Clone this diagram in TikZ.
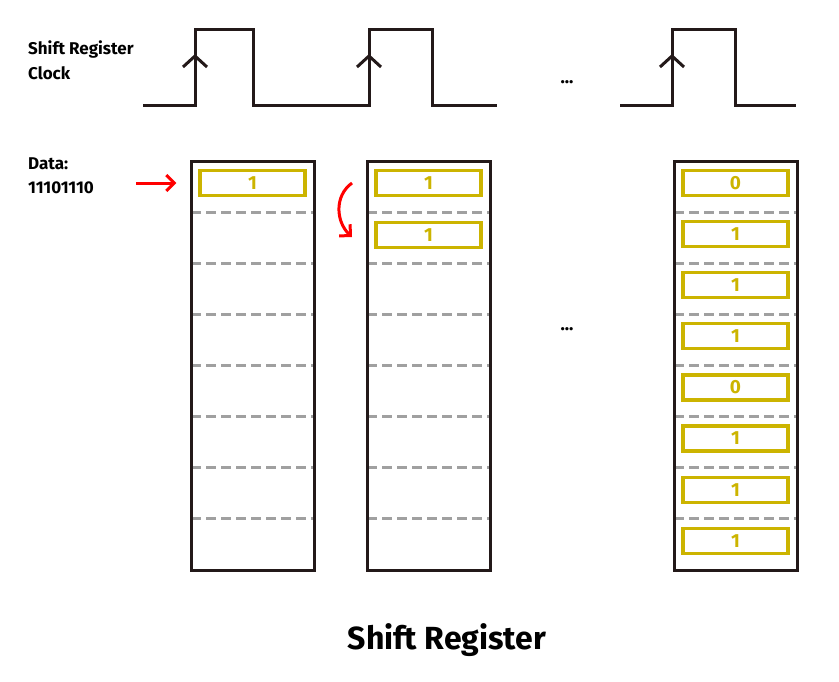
\documentclass[tikz,border=0pt]{standalone}
\usepackage{fontspec}
\setmainfont{Fira Sans}
\usetikzlibrary{arrows.meta}
\definecolor{wave}{RGB}{35,25,25}
\definecolor{bitc}{RGB}{204,180,0}
\definecolor{dash}{RGB}{160,160,160}
\begin{document}
\begin{tikzpicture}[x=1pt,y=-1pt,
  wavel/.style={draw=wave,line width=3pt},
  caret/.style={draw=wave,line width=3pt},
  reg/.style={draw=wave,line width=3pt},
  sep/.style={draw=dash,line width=2.8pt,dash pattern=on 10pt off 5pt},
  bit/.style={draw=bitc,line width=3.2pt,minimum width=105pt,minimum height=25pt,inner sep=0pt,text=bitc,font=\bfseries\fontsize{19}{19}\selectfont},
  lbl/.style={font=\bfseries\fontsize{17}{19}\selectfont,anchor=west,inner sep=0pt},
  redarr/.style={draw=red,line width=3pt,-{Straight Barb[length=8pt,width=16pt,line width=3pt]}}]
\useasboundingbox (0,0) rectangle (839,681);
% clock
\draw[wavel] (143,105) -- (195,105) -- (195,29) -- (253,29) -- (253,105) -- (369,105) -- (369,29) -- (432,29) -- (432,105) -- (497,105);
\draw[wavel] (620,105) -- (672,105) -- (672,29) -- (735,29) -- (735,105) -- (796,105);
\foreach \x in {195,369,672}{\draw[caret] (\x-12,67) -- (\x,56) -- (\x+12,67);}
\node[lbl] (t1) at (28,49) {Shift Register};
\node[lbl] (t2) at (28,73) {Clock};
\node[lbl] (t3) at (28,164) {Data:};
\node[lbl] (t4) at (28,188) {11101110};
\node[font=\bfseries\fontsize{18}{18}\selectfont] (d1) at (567,82) {...};
\node[font=\bfseries\fontsize{18}{18}\selectfont] (d2) at (567,329) {...};
% registers
\foreach \x/\n in {191/A,367/B,674/C}{
  \foreach \k in {1,...,7}{\draw[sep] (\x,161+\k*51.1) -- (\x+123,161+\k*51.1);}
  \draw[reg] (\x,161) rectangle (\x+123,570);
}
\node[bit] (a1) at (252.5,183) {1};
\node[bit] (b1) at (428.5,183) {1};
\node[bit] (b2) at (428.5,235) {1};
\foreach \v [count=\i from 0] in {0,1,1,1,0,1,1,1}{
  \node[bit] (c\i) at (735.5,183+\i*51.1) {\v};
}
\coordinate (ra) at (136,183);
\draw[redarr] (ra) -- ([xshift=-22pt]a1.west);
\coordinate (cs) at (352,183);
\coordinate (ce) at (352,237);
\draw[redarr] (cs) .. controls (334,196) and (336,222) .. (ce);
\node[font=\bfseries\fontsize{32}{32}\selectfont] (title) at (447,640) {Shift Register};
\end{tikzpicture}
\end{document}
